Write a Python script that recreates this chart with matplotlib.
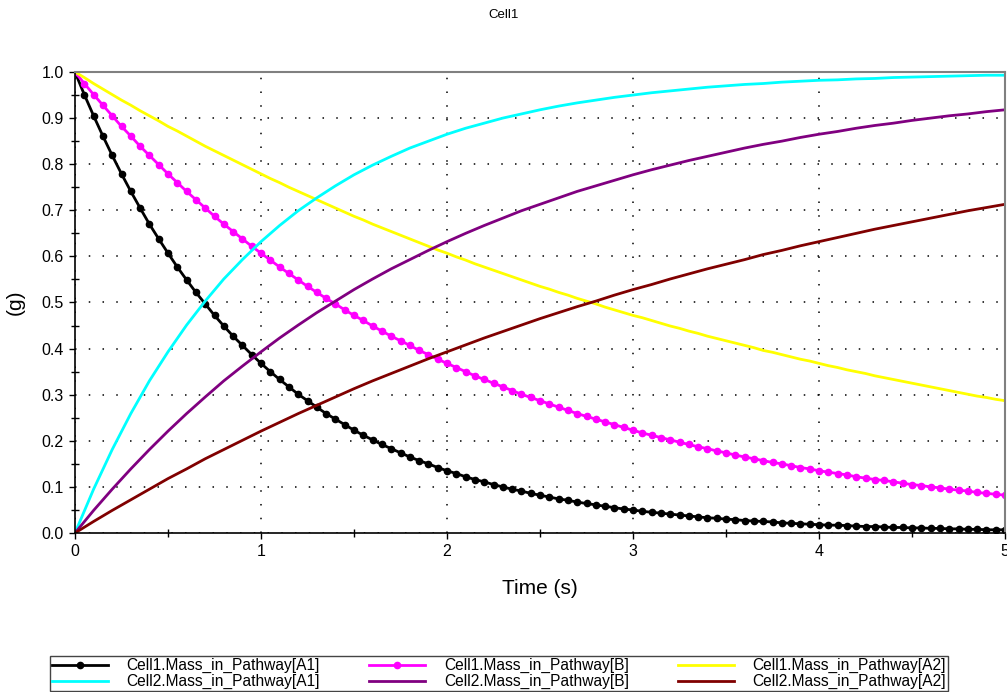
import numpy as np
import matplotlib
matplotlib.use("Agg")
import matplotlib.pyplot as plt
from matplotlib.ticker import MultipleLocator

plt.rcParams['font.family'] = ['Liberation Sans', 'DejaVu Sans']

# time grid (s)
t_fine = np.linspace(0, 5, 101)
t_coarse = np.linspace(0, 5, 51)

cell1_A1 = [1.000, 0.951, 0.905, 0.861, 0.819, 0.779, 0.741, 0.705, 0.670, 0.638,
            0.607, 0.577, 0.549, 0.522, 0.497, 0.472, 0.449, 0.427, 0.407, 0.387,
            0.368, 0.350, 0.333, 0.317, 0.301, 0.287, 0.273, 0.259, 0.247, 0.235,
            0.223, 0.212, 0.202, 0.192, 0.183, 0.174, 0.165, 0.157, 0.150, 0.142,
            0.135, 0.129, 0.122, 0.116, 0.111, 0.105, 0.100, 0.095, 0.091, 0.086,
            0.082, 0.078, 0.074, 0.071, 0.067, 0.064, 0.061, 0.058, 0.055, 0.052,
            0.050, 0.047, 0.045, 0.043, 0.041, 0.039, 0.037, 0.035, 0.033, 0.032,
            0.030, 0.029, 0.027, 0.026, 0.025, 0.024, 0.022, 0.021, 0.020, 0.019,
            0.018, 0.017, 0.017, 0.016, 0.015, 0.014, 0.014, 0.013, 0.012, 0.012,
            0.011, 0.011, 0.010, 0.010, 0.009, 0.009, 0.008, 0.008, 0.007, 0.007,
            0.007]

cell1_B = [1.000, 0.975, 0.951, 0.928, 0.905, 0.882, 0.861, 0.839, 0.819, 0.799,
           0.779, 0.760, 0.741, 0.723, 0.705, 0.687, 0.670, 0.654, 0.638, 0.622,
           0.607, 0.592, 0.577, 0.563, 0.549, 0.535, 0.522, 0.509, 0.497, 0.484,
           0.472, 0.461, 0.449, 0.438, 0.427, 0.417, 0.407, 0.396, 0.387, 0.377,
           0.368, 0.359, 0.350, 0.341, 0.333, 0.325, 0.317, 0.309, 0.301, 0.294,
           0.287, 0.280, 0.273, 0.266, 0.259, 0.253, 0.247, 0.241, 0.235, 0.229,
           0.223, 0.217, 0.212, 0.207, 0.202, 0.197, 0.192, 0.187, 0.183, 0.178,
           0.174, 0.169, 0.165, 0.161, 0.157, 0.153, 0.150, 0.146, 0.142, 0.139,
           0.135, 0.132, 0.129, 0.126, 0.122, 0.119, 0.116, 0.114, 0.111, 0.108,
           0.105, 0.103, 0.100, 0.098, 0.095, 0.093, 0.091, 0.088, 0.086, 0.084,
           0.082]

cell1_A2 = [1.000, 0.988, 0.975, 0.963, 0.951, 0.939, 0.928, 0.916, 0.905, 0.894,
            0.882, 0.872, 0.861, 0.850, 0.839, 0.829, 0.819, 0.809, 0.799, 0.789,
            0.779, 0.769, 0.760, 0.750, 0.741, 0.732, 0.723, 0.714, 0.705, 0.696,
            0.687, 0.679, 0.670, 0.662, 0.654, 0.646, 0.638, 0.630, 0.622, 0.614,
            0.607, 0.599, 0.592, 0.584, 0.577, 0.570, 0.563, 0.556, 0.549, 0.542,
            0.535, 0.529, 0.522, 0.516, 0.509, 0.503, 0.497, 0.490, 0.484, 0.478,
            0.472, 0.467, 0.461, 0.455, 0.449, 0.444, 0.438, 0.433, 0.427, 0.422,
            0.417, 0.412, 0.407, 0.402, 0.396, 0.392, 0.387, 0.382, 0.377, 0.373,
            0.368, 0.363, 0.359, 0.354, 0.350, 0.346, 0.341, 0.337, 0.333, 0.329,
            0.325, 0.321, 0.317, 0.313, 0.309, 0.305, 0.301, 0.297, 0.294, 0.290,
            0.287]

cell2_A1 = [0.000, 0.095, 0.181, 0.259, 0.330, 0.393, 0.451, 0.503, 0.551, 0.593,
            0.632, 0.667, 0.699, 0.727, 0.753, 0.777, 0.798, 0.817, 0.835, 0.850,
            0.865, 0.878, 0.889, 0.900, 0.909, 0.918, 0.926, 0.933, 0.939, 0.945,
            0.950, 0.955, 0.959, 0.963, 0.967, 0.970, 0.973, 0.975, 0.978, 0.980,
            0.982, 0.983, 0.985, 0.986, 0.988, 0.989, 0.990, 0.991, 0.992, 0.993,
            0.993]

cell2_B = [0.000, 0.049, 0.095, 0.139, 0.181, 0.221, 0.259, 0.295, 0.330, 0.362,
           0.393, 0.423, 0.451, 0.478, 0.503, 0.528, 0.551, 0.573, 0.593, 0.613,
           0.632, 0.650, 0.667, 0.683, 0.699, 0.713, 0.727, 0.741, 0.753, 0.765,
           0.777, 0.788, 0.798, 0.808, 0.817, 0.826, 0.835, 0.843, 0.850, 0.858,
           0.865, 0.871, 0.878, 0.884, 0.889, 0.895, 0.900, 0.905, 0.909, 0.914,
           0.918]

cell2_A2 = [0.000, 0.025, 0.049, 0.072, 0.095, 0.118, 0.139, 0.161, 0.181, 0.201,
            0.221, 0.240, 0.259, 0.277, 0.295, 0.313, 0.330, 0.346, 0.362, 0.378,
            0.393, 0.408, 0.423, 0.437, 0.451, 0.465, 0.478, 0.491, 0.503, 0.516,
            0.528, 0.539, 0.551, 0.562, 0.573, 0.583, 0.593, 0.604, 0.613, 0.623,
            0.632, 0.641, 0.650, 0.659, 0.667, 0.675, 0.683, 0.691, 0.699, 0.706,
            0.713]

fig = plt.figure(figsize=(10.07, 6.92), dpi=100)
ax = fig.add_axes([75/1007, 1-533/692, 930/1007, 461/692])

lw = 2.0
h_c1a1, = ax.plot(t_fine, cell1_A1, color='black', lw=lw, marker='o', ms=4.5,
                  label='Cell1.Mass_in_Pathway[A1]')
h_c1b, = ax.plot(t_fine, cell1_B, color='#FF00FF', lw=lw, marker='o', ms=4.5,
                 label='Cell1.Mass_in_Pathway[B]')
h_c1a2, = ax.plot(t_fine, cell1_A2, color='#FFFF00', lw=lw,
                  label='Cell1.Mass_in_Pathway[A2]')
h_c2a1, = ax.plot(t_coarse, cell2_A1, color='#00FFFF', lw=lw,
                  label='Cell2.Mass_in_Pathway[A1]')
h_c2b, = ax.plot(t_coarse, cell2_B, color='#800080', lw=lw,
                 label='Cell2.Mass_in_Pathway[B]')
h_c2a2, = ax.plot(t_coarse, cell2_A2, color='#800000', lw=lw,
                  label='Cell2.Mass_in_Pathway[A2]')

ax.set_xlim(0, 5)
ax.set_ylim(0, 1)
ax.xaxis.set_major_locator(MultipleLocator(1))
ax.xaxis.set_minor_locator(MultipleLocator(0.5))
ax.yaxis.set_major_locator(MultipleLocator(0.1))
ax.yaxis.set_minor_locator(MultipleLocator(0.05))
ax.yaxis.set_major_formatter(matplotlib.ticker.FormatStrFormatter('%.1f'))
ax.tick_params(which='major', direction='out', length=4, width=1, labelsize=11.5, pad=4)
ax.tick_params(which='minor', direction='inout', length=6, width=1)
ax.grid(True, which='major', color='black', linestyle=(0, (1, 8)), linewidth=1.1)
ax.set_axisbelow(True)
for s in ['left', 'bottom']:
    ax.spines[s].set_color('black')
    ax.spines[s].set_linewidth(1.2)
for s in ['top', 'right']:
    ax.spines[s].set_color('#808080')
    ax.spines[s].set_linewidth(1.5)

ax.set_xlabel('Time (s)', fontsize=15, labelpad=14)
ax.set_ylabel('(g)', fontsize=15, labelpad=12)
fig.text(504/1007, 1-15/692, 'Cell1', ha='center', va='center', fontsize=9.5)

handles = [h_c1a1, h_c2a1, h_c1b, h_c2b, h_c1a2, h_c2a2]
leg = fig.legend(handles=handles, labels=[h.get_label() for h in handles],
                 ncol=3, loc='lower left',
                 bbox_to_anchor=(50/1007, 1/692, 898/1007, 38/692),
                 mode='expand', fontsize=11.2, handlelength=3.6,
                 handletextpad=1.2, labelspacing=0.05, borderaxespad=0,
                 borderpad=0.12, fancybox=False, framealpha=1, columnspacing=1.0,
                 markerscale=1.0)
leg.get_frame().set_edgecolor('#444444')
leg.get_frame().set_linewidth(1.0)

fig.savefig('out.png', dpi=100)
